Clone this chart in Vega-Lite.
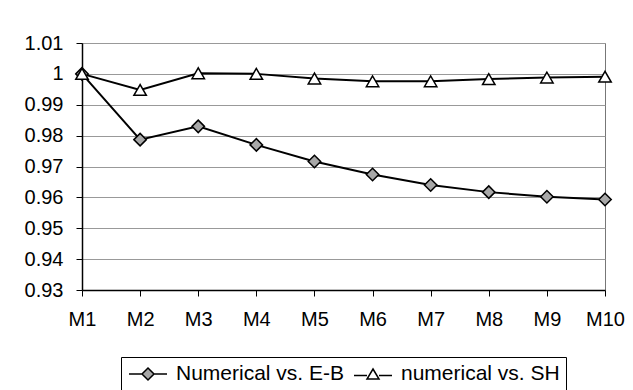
{
  "$schema": "https://vega.github.io/schema/vega-lite/v6.json",
  "width": 523,
  "height": 247,
  "autosize": {"type": "none"},
  "padding": {"left": 82, "top": 43, "right": 28, "bottom": 100},
  "background": "white",
  "config": {
    "font": "Liberation Sans",
    "view": {"stroke": "#777", "strokeWidth": 1},
    "axis": {"labelFont": "Liberation Sans", "labelFontSize": 20, "labelColor": "black", "domainColor": "black", "domainWidth": 1.5, "tickColor": "black", "tickSize": 6, "title": null},
    "legend": {"layout": {"bottom": {"anchor": "middle"}}}
  },
  "data": {"values": [
    {"model": "M1", "series": "Numerical vs. E-B", "value": 1.0},
    {"model": "M2", "series": "Numerical vs. E-B", "value": 0.9787},
    {"model": "M3", "series": "Numerical vs. E-B", "value": 0.983},
    {"model": "M4", "series": "Numerical vs. E-B", "value": 0.977},
    {"model": "M5", "series": "Numerical vs. E-B", "value": 0.9716},
    {"model": "M6", "series": "Numerical vs. E-B", "value": 0.9674},
    {"model": "M7", "series": "Numerical vs. E-B", "value": 0.964},
    {"model": "M8", "series": "Numerical vs. E-B", "value": 0.9617},
    {"model": "M9", "series": "Numerical vs. E-B", "value": 0.9602},
    {"model": "M10", "series": "Numerical vs. E-B", "value": 0.9593},
    {"model": "M1", "series": "numerical vs. SH", "value": 1.0},
    {"model": "M2", "series": "numerical vs. SH", "value": 0.9948},
    {"model": "M3", "series": "numerical vs. SH", "value": 1.0002},
    {"model": "M4", "series": "numerical vs. SH", "value": 1.0},
    {"model": "M5", "series": "numerical vs. SH", "value": 0.9985},
    {"model": "M6", "series": "numerical vs. SH", "value": 0.9976},
    {"model": "M7", "series": "numerical vs. SH", "value": 0.9976},
    {"model": "M8", "series": "numerical vs. SH", "value": 0.9983},
    {"model": "M9", "series": "numerical vs. SH", "value": 0.9988},
    {"model": "M10", "series": "numerical vs. SH", "value": 0.9991}
  ]},
  "encoding": {
    "x": {"field": "model", "type": "ordinal", "sort": null,
      "scale": {"type": "point", "padding": 0},
      "axis": {"labelAngle": 0, "labelPadding": 13, "grid": false}},
    "y": {"field": "value", "type": "quantitative",
      "scale": {"domain": [0.93, 1.01], "zero": false, "nice": false},
      "axis": {"values": [0.93, 0.94, 0.95, 0.96, 0.97, 0.98, 0.99, 1.0, 1.01], "format": ".2~f", "labelPadding": 13, "grid": true, "gridColor": "#999", "gridWidth": 1}}
  },
  "layer": [
    {
      "mark": {"type": "line", "color": "black", "strokeWidth": 2},
      "encoding": {"detail": {"field": "series"}}
    },
    {
      "mark": {"type": "point", "filled": true, "stroke": "black", "strokeWidth": 1.5, "size": 155, "opacity": 1},
      "encoding": {
        "shape": {"field": "series", "scale": {"domain": ["Numerical vs. E-B", "numerical vs. SH"], "range": ["diamond", "triangle-up"]}, "legend": null},
        "fill": {"field": "series", "scale": {"domain": ["Numerical vs. E-B", "numerical vs. SH"], "range": ["#a8a8a8", "white"]}, "legend": null}
      }
    },
    {
      "mark": {"type": "point", "filled": true, "stroke": "black", "strokeWidth": 1.5, "opacity": 0},
      "encoding": {
        "shape": {"field": "series", "scale": {"domain": ["Numerical vs. E-B", "numerical vs. SH"], "range": ["M-1.9,0H-0.6M0.6,0H1.9M0,-0.6L0.6,0L0,0.6L-0.6,0Z", "M-1.9,0.15H-0.6M0.6,0.15H1.9M0,-0.5L0.6,0.5L-0.6,0.5Z"]},
          "legend": {"title": null, "orient": "bottom", "direction": "horizontal", "offset": 28, "symbolSize": 400, "symbolOpacity": 1, "symbolOffset": 10, "labelFont": "Liberation Sans", "labelFontSize": 21, "labelColor": "black", "labelLimit": 400, "labelOffset": 17, "columnPadding": 6, "strokeColor": "black", "padding": 6,
            "encode": {"symbols": {"update": {"stroke": {"value": "black"}, "strokeWidth": {"value": 1.5}, "opacity": {"value": 1}}}}}},
        "fill": {"field": "series", "scale": {"domain": ["Numerical vs. E-B", "numerical vs. SH"], "range": ["#a8a8a8", "white"]},
          "legend": {"title": null, "orient": "bottom", "direction": "horizontal", "offset": 28, "symbolSize": 400, "symbolOpacity": 1, "symbolOffset": 10, "labelFont": "Liberation Sans", "labelFontSize": 21, "labelColor": "black", "labelLimit": 400, "labelOffset": 17, "columnPadding": 6, "strokeColor": "black", "padding": 6,
            "encode": {"symbols": {"update": {"stroke": {"value": "black"}, "strokeWidth": {"value": 1.5}, "opacity": {"value": 1}}}}}}
      }
    }
  ],
  "resolve": {"scale": {"shape": "independent", "fill": "independent"}}
}
